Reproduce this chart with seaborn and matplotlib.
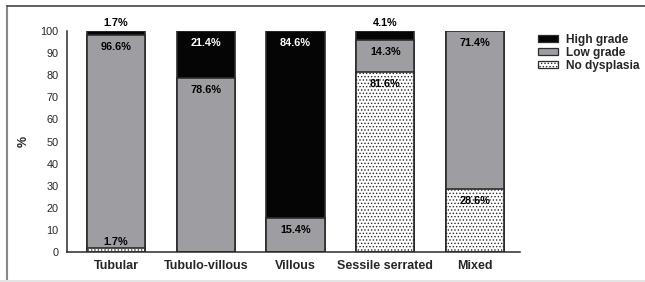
import numpy as np
import pandas as pd
import seaborn as sns
import matplotlib.pyplot as plt
from matplotlib.patches import Patch
from matplotlib.lines import Line2D

categories = ["Tubular", "Tubulo-villous", "Villous", "Sessile serrated", "Mixed"]
no_dysplasia = [1.7, 0.0, 0.0, 81.6, 28.6]
low_grade = [96.6, 78.6, 15.4, 14.3, 71.4]
high_grade = [1.7, 21.4, 84.6, 4.1, 0.0]

series_names = ["No dysplasia", "Low grade", "High grade"]
series_colors = {"High grade": "#050505", "Low grade": "#9e9ea2", "No dysplasia": "white"}

sns.set_style("white")
plt.rcParams["font.family"] = ["Liberation Sans", "DejaVu Sans"]
plt.rcParams["hatch.linewidth"] = 0.6

fig = plt.figure(figsize=(6.45, 2.82), dpi=100)
ax = fig.add_axes([67 / 645, 1 - 252 / 282, 453 / 645, 221 / 282])

df = pd.DataFrame({"category": categories, "No dysplasia": no_dysplasia,
                   "Low grade": low_grade, "High grade": high_grade})
cum = df[series_names].cumsum(axis=1)

# overlay bars from the tallest (cumulative) down so stacks show through
edge = "#2b2b2b"
dots = "....."
for name in ["High grade", "Low grade", "No dysplasia"]:
    sns.barplot(x=df["category"], y=cum[name], color=series_colors[name], saturation=1,
                width=0.65, edgecolor=edge, linewidth=1.2, ax=ax,
                hatch=dots if name == "No dysplasia" else None)

# value labels
for i, cat in enumerate(categories):
    for name in series_names:
        val = df.loc[i, name]
        if val <= 0:
            continue
        top = cum.loc[i, name]
        if val >= 10:
            y = top - 5.5
        elif name == "High grade":
            y = 103.8
        else:
            y = top + 2.6
        color = "white" if (name == "High grade" and val >= 10) else "black"
        ax.text(i, y, f"{val:.1f}%", ha="center", va="center", fontsize=7.8,
                fontweight="bold", color=color, clip_on=False)

ax.set_xlim(-0.545, 4.5)
ax.set_ylim(0, 100)
ax.set_yticks(np.arange(0, 101, 10))
ax.set_xlabel("")
ax.set_ylabel("%", fontsize=9, fontweight="bold", labelpad=8)
sns.despine(ax=ax)
for s in ["left", "bottom"]:
    ax.spines[s].set_linewidth(1.1)
    ax.spines[s].set_color(edge)
ax.tick_params(axis="both", direction="out", length=4, width=1, color=edge, pad=2)
ax.tick_params(axis="y", labelsize=7.8)
ax.tick_params(axis="x", labelsize=9)
for lab in ax.get_xticklabels():
    lab.set_fontweight("bold")

handles = [Patch(facecolor=series_colors[n], edgecolor=edge, linewidth=0.9,
                 hatch=dots if n == "No dysplasia" else None)
           for n in ["High grade", "Low grade", "No dysplasia"]]
leg = fig.legend(handles, ["High grade", "Low grade", "No dysplasia"],
                 loc="upper left", bbox_to_anchor=(527 / 645, 1 - 23 / 282),
                 frameon=False, handlelength=1.7, handleheight=0.5,
                 handletextpad=0.7, labelspacing=0.1,
                 prop={"size": 8.6, "weight": "bold"})

# picture frame
fig.add_artist(Line2D([7 / 645, 7 / 645], [0, 1 - 6 / 282], transform=fig.transFigure,
                      color="#888888", linewidth=1.5))
fig.add_artist(Line2D([7 / 645, 1], [1 - 6 / 282, 1 - 6 / 282], transform=fig.transFigure,
                      color="#444444", linewidth=1.2))
fig.add_artist(Line2D([0, 1], [1.5 / 282, 1.5 / 282], transform=fig.transFigure,
                      color="#e4e4e4", linewidth=1.5))

fig.savefig("out.png", dpi=100)
